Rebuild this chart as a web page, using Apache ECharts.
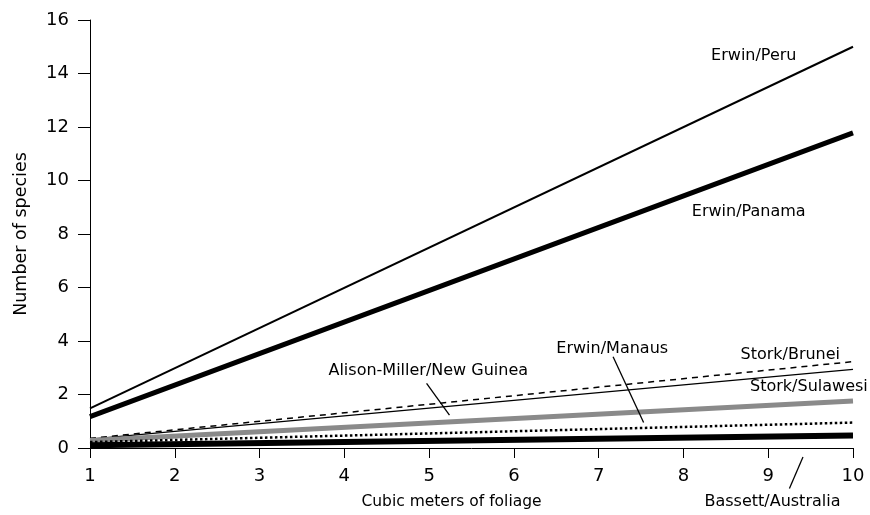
<!DOCTYPE html>
<html>
<head>
<meta charset="utf-8">
<script src="https://cdn.jsdelivr.net/npm/echarts@6/dist/echarts.min.js"></script>
<style>html,body{margin:0;padding:0;background:#fff}#c{width:870px;height:515px}</style>
</head>
<body>
<div id="c"></div>
<script>
// Endpoints (x = cubic meters of foliage, y = number of species)
const xRange = [1, 10];
const erwinPeru = [1.48, 15.0];
const erwinPanama = [1.17, 11.78];
const storkBrunei = [0.36, 3.23];
const storkSulawesi = [0.33, 2.94];
const alisonMillerNewGuinea = [0.28, 1.76];
const erwinManaus = [0.22, 0.95];
const bassettAustralia = [0.10, 0.47];

const xTicks = [1, 2, 3, 4, 5, 6, 7, 8, 9, 10];
const yTicks = [0, 2, 4, 6, 8, 10, 12, 14, 16];

// Annotation label anchors (data coordinates)
const labelNames = ['Erwin/Peru', 'Erwin/Panama', 'Stork/Brunei', 'Stork/Sulawesi', 'Alison-Miller/New Guinea', 'Erwin/Manaus', 'Bassett/Australia'];
const labelX = [8.83, 8.77, 9.26, 9.48, 4.99, 7.16, 9.05];
const labelY = [14.65, 8.83, 3.50, 2.27, 2.88, 3.69, -2.03];

// Leader lines (data coordinates)
const leaderAlison = [[4.97, 2.42], [5.24, 1.23]];
const leaderManaus = [[7.17, 3.41], [7.53, 0.95]];
const leaderBassett = [[9.41, -0.34], [9.25, -1.51]];

const FONT = 'DejaVu Sans';

function seg(vals) { return [[xRange[0], vals[0]], [xRange[1], vals[1]]]; }
function lineSeries(name, vals, color, width, type) {
  return {
    name: name, type: 'line', data: seg(vals), symbol: 'none', silent: true,
    lineStyle: { color: color, width: width, type: type || 'solid', cap: 'butt' },
    animation: false, z: 3
  };
}
function leader(pts) {
  return {
    type: 'line', data: pts, symbol: 'none', clip: false, silent: true,
    lineStyle: { color: '#000', width: 1.3 }, animation: false, z: 4
  };
}

const chart = echarts.init(document.getElementById('c'), null, { renderer: 'canvas' });
chart.setOption({
  animation: false,
  backgroundColor: '#fff',
  grid: { left: 90, right: 17, top: 20, bottom: 67, containLabel: false },
  xAxis: {
    type: 'value', min: xTicks[0], max: xTicks[xTicks.length - 1], interval: 1,
    name: 'Cubic meters of foliage', nameLocation: 'middle', nameGap: 46,
    nameTextStyle: { fontFamily: FONT, fontSize: 15.5, color: '#000', padding: [0, 40, 0, 0] },
    axisLine: { show: true, onZero: false, lineStyle: { color: '#000', width: 1 } },
    axisTick: { show: true, length: 10, lineStyle: { color: '#000', width: 1 } },
    axisLabel: { fontFamily: FONT, fontSize: 18, color: '#000', margin: 19 },
    splitLine: { show: false }
  },
  yAxis: {
    type: 'value', min: yTicks[0], max: yTicks[yTicks.length - 1], interval: 2,
    name: 'Number of species', nameLocation: 'middle', nameGap: 60,
    nameTextStyle: { fontFamily: FONT, fontSize: 17.5, color: '#000' },
    axisLine: { show: true, lineStyle: { color: '#000', width: 1 } },
    axisTick: { show: true, length: 12, lineStyle: { color: '#000', width: 1 } },
    axisLabel: { fontFamily: FONT, fontSize: 18, color: '#000', margin: 21 },
    splitLine: { show: false }
  },
  series: [
    lineSeries('Erwin/Peru', erwinPeru, '#000', 2),
    lineSeries('Erwin/Panama', erwinPanama, '#000', 5),
    lineSeries('Stork/Brunei', storkBrunei, '#000', 1.5, [6, 5]),
    lineSeries('Stork/Sulawesi', storkSulawesi, '#000', 1.3),
    lineSeries('Alison-Miller/New Guinea', alisonMillerNewGuinea, '#8a8a8a', 5),
    lineSeries('Erwin/Manaus', erwinManaus, '#000', 2.5, [2.5, 2.5]),
    lineSeries('Bassett/Australia', bassettAustralia, '#000', 6),
    leader(leaderAlison),
    leader(leaderManaus),
    leader(leaderBassett),
    {
      type: 'scatter', clip: false, silent: true, symbolSize: 0, animation: false, z: 5,
      itemStyle: { color: '#000', opacity: 1 },
      data: labelNames.map((n, i) => ({ value: [labelX[i], labelY[i]], name: n })),
      label: {
        show: true, position: 'inside', formatter: p => p.name,
        fontFamily: FONT, fontSize: 16, color: '#000', opacity: 1,
        textBorderWidth: 0, textBorderColor: 'transparent'
      }
    }
  ]
});
</script>
</body>
</html>
